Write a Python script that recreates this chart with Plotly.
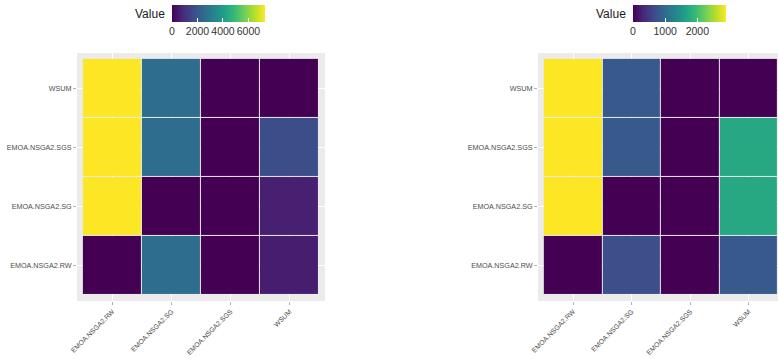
import plotly.graph_objects as go

algos = ["EMOA.NSGA2.RW", "EMOA.NSGA2.SG", "EMOA.NSGA2.SGS", "WSUM"]

# rows = y categories (bottom to top), columns = x categories
left_values = [
    [0, 2600, 0, 600],
    [7300, 0, 0, 650],
    [7300, 2600, 0, 1750],
    [7300, 2600, 0, 0],
]
right_values = [
    [0, 700, 0, 810],
    [2890, 0, 0, 1740],
    [2890, 810, 0, 1740],
    [2890, 810, 0, 0],
]
left_ticks = [0, 2000, 4000, 6000]
right_ticks = [0, 1000, 2000]

W, H = 778, 359
fig = go.Figure()

def cbar(x0, ticks):
    return dict(
        orientation="h", x=x0 / W, xanchor="left", y=1 - 5 / H, yanchor="top",
        lenmode="pixels", len=93, thicknessmode="pixels", thickness=17,
        xpad=0, ypad=0, outlinewidth=0,
        tickvals=ticks, ticks="inside", ticklen=4, tickcolor="white", tickwidth=1,
        tickangle=0,
        tickfont=dict(family="Liberation Sans, Arial", size=10.5, color="#333333"),
    )

fig.add_trace(go.Heatmap(
    x=algos, y=algos, z=left_values, colorscale="Viridis", zmin=0, zmax=max(max(r) for r in left_values),
    xgap=1, ygap=1, xaxis="x", yaxis="y", colorbar=cbar(172, left_ticks), showscale=True,
))
fig.add_trace(go.Heatmap(
    x=algos, y=algos, z=right_values, colorscale="Viridis", zmin=0, zmax=max(max(r) for r in right_values),
    xgap=1, ygap=1, xaxis="x2", yaxis="y2", colorbar=cbar(633, right_ticks), showscale=True,
))

ytickfont = dict(family="Liberation Sans, Arial", size=7.2, color="#4D4D4D")
xtickfont = dict(family="Liberation Sans, Arial", size=6.8, color="#4D4D4D")
ax_common = dict(
    type="category", showgrid=True, gridcolor="white", gridwidth=1, zeroline=False,
    ticks="outside", ticklen=3, tickcolor="#B3B3B3", tickwidth=0.7,
    showline=False, fixedrange=True, automargin=False,
)
ydom = [1 - 301 / H, 1 - 53 / H]
fig.update_layout(
    width=W, height=H, autosize=False, margin=dict(l=0, r=0, t=0, b=0, autoexpand=False),
    paper_bgcolor="white", plot_bgcolor="#EBEBEB",
    xaxis=dict(ax_common, domain=[77 / W, 325 / W], range=[-0.6, 3.6], tickangle=-45, anchor="y",
               tickfont=xtickfont, categoryorder="array", categoryarray=algos),
    yaxis=dict(ax_common, domain=ydom, range=[-0.6, 3.6], anchor="x",
               tickfont=ytickfont, categoryorder="array", categoryarray=algos),
    xaxis2=dict(ax_common, domain=[538 / W, 1], range=[-0.6, 3.5], tickangle=-45, anchor="y2",
                tickfont=xtickfont, categoryorder="array", categoryarray=algos),
    yaxis2=dict(ax_common, domain=ydom, range=[-0.6, 3.6], anchor="x2",
                tickfont=ytickfont, categoryorder="array", categoryarray=algos),
    annotations=[
        dict(text="Value", x=167 / W, y=1 - 14 / H, xref="paper", yref="paper", xanchor="right",
             yanchor="middle", showarrow=False, font=dict(family="Liberation Sans, Arial", size=12, color="#1A1A1A")),
        dict(text="Value", x=628 / W, y=1 - 14 / H, xref="paper", yref="paper", xanchor="right",
             yanchor="middle", showarrow=False, font=dict(family="Liberation Sans, Arial", size=12, color="#1A1A1A")),
    ],
)

fig.write_html("out.html")
